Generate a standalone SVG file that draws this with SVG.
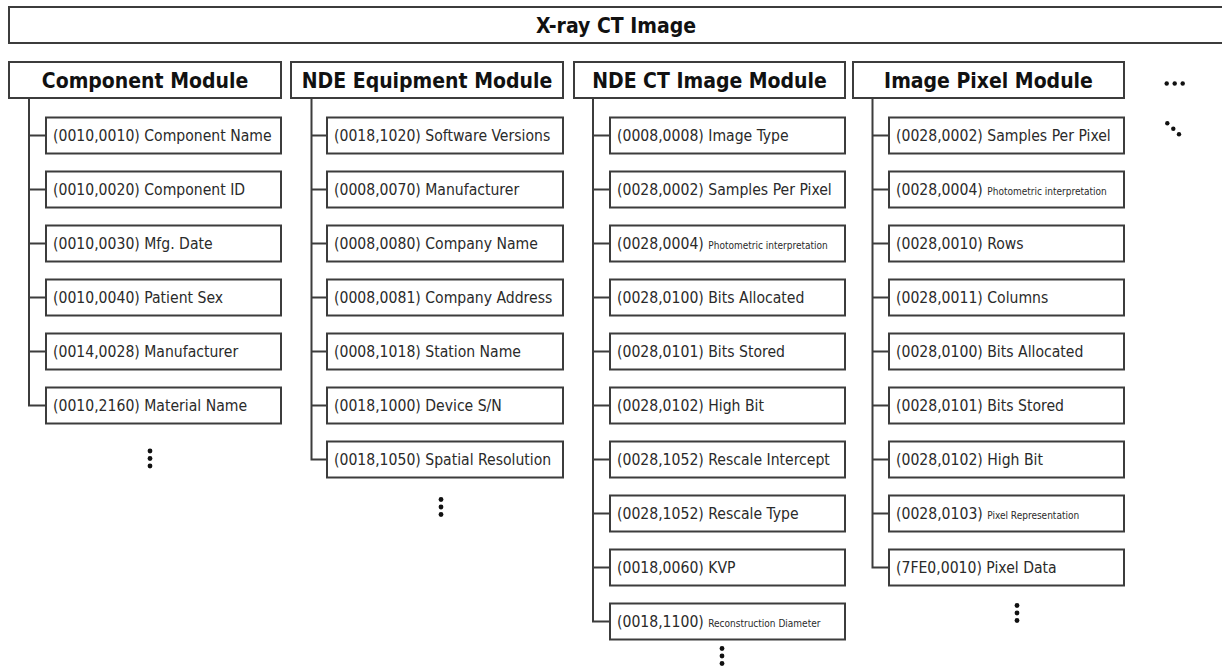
<svg xmlns="http://www.w3.org/2000/svg" width="1222" height="668" viewBox="0 0 1222 668">
  <style>
    .box { fill: #ffffff; stroke: #3c3c3c; stroke-width: 2; }
    .wire { fill: none; stroke: #3c3c3c; stroke-width: 2; }
    .head { font-family: "DejaVu Sans Condensed", "DejaVu Sans", sans-serif; font-weight: bold; font-size: 21px; fill: #111111; text-anchor: middle; }
    .item { font-family: "DejaVu Sans Condensed", "DejaVu Sans", sans-serif; font-size: 15.6px; fill: #2a2a2a; }
    .small { font-size: 10px; }
    .dot { fill: #111111; }
  </style>
  <defs>
    <g id="vdots">
      <circle class="dot" cx="0" cy="-7.5" r="2.4"/>
      <circle class="dot" cx="0" cy="0" r="2.4"/>
      <circle class="dot" cx="0" cy="7.5" r="2.4"/>
    </g>
  </defs>
  <rect width="1222" height="668" fill="#ffffff"/>

  <!-- top-level object -->
  <g id="xray-ct-image">
    <rect class="box" x="9" y="7" width="1220" height="36"/>
    <text class="head" x="616" y="32.5">X-ray CT Image</text>
  </g>

  <!-- tree connectors: spine from each module header, one tick per attribute -->
  <g id="connectors">
    <path class="wire" d="M29 98 V405.5 H46 M29 135.5 H46 M29 189.5 H46 M29 243.5 H46 M29 297.5 H46 M29 351.5 H46"/>
    <path class="wire" d="M311.5 98 V459.5 H327 M311.5 135.5 H327 M311.5 189.5 H327 M311.5 243.5 H327 M311.5 297.5 H327 M311.5 351.5 H327 M311.5 405.5 H327"/>
    <path class="wire" d="M593 98 V621.5 H610 M593 135.5 H610 M593 189.5 H610 M593 243.5 H610 M593 297.5 H610 M593 351.5 H610 M593 405.5 H610 M593 459.5 H610 M593 513.5 H610 M593 567.5 H610"/>
    <path class="wire" d="M872.5 98 V567.5 H889 M872.5 135.5 H889 M872.5 189.5 H889 M872.5 243.5 H889 M872.5 297.5 H889 M872.5 351.5 H889 M872.5 405.5 H889 M872.5 459.5 H889 M872.5 513.5 H889"/>
  </g>

  <!-- Component Module -->
  <g id="component-module">
    <rect class="box" x="9" y="62" width="272" height="36"/>
    <text class="head" x="145" y="87.5">Component Module</text>
  </g>
  <g id="comp-0010-0010"><rect class="box" x="46" y="117.5" width="235" height="36"/><text class="item" x="53" y="141">(0010,0010) Component Name</text></g>
  <g id="comp-0010-0020"><rect class="box" x="46" y="171.5" width="235" height="36"/><text class="item" x="53" y="195">(0010,0020) Component ID</text></g>
  <g id="comp-0010-0030"><rect class="box" x="46" y="225.5" width="235" height="36"/><text class="item" x="53" y="249">(0010,0030) Mfg. Date</text></g>
  <g id="comp-0010-0040"><rect class="box" x="46" y="279.5" width="235" height="36"/><text class="item" x="53" y="303">(0010,0040) Patient Sex</text></g>
  <g id="comp-0014-0028"><rect class="box" x="46" y="333.5" width="235" height="36"/><text class="item" x="53" y="357">(0014,0028) Manufacturer</text></g>
  <g id="comp-0010-2160"><rect class="box" x="46" y="387.5" width="235" height="36"/><text class="item" x="53" y="411">(0010,2160) Material Name</text></g>
  <use href="#vdots" x="150" y="458.5"/>

  <!-- NDE Equipment Module -->
  <g id="nde-equipment-module">
    <rect class="box" x="291" y="62" width="272" height="36"/>
    <text class="head" x="427" y="87.5">NDE Equipment Module</text>
  </g>
  <g id="eq-0018-1020"><rect class="box" x="327" y="117.5" width="236" height="36"/><text class="item" x="334" y="141">(0018,1020) Software Versions</text></g>
  <g id="eq-0008-0070"><rect class="box" x="327" y="171.5" width="236" height="36"/><text class="item" x="334" y="195">(0008,0070) Manufacturer</text></g>
  <g id="eq-0008-0080"><rect class="box" x="327" y="225.5" width="236" height="36"/><text class="item" x="334" y="249">(0008,0080) Company Name</text></g>
  <g id="eq-0008-0081"><rect class="box" x="327" y="279.5" width="236" height="36"/><text class="item" x="334" y="303">(0008,0081) Company Address</text></g>
  <g id="eq-0008-1018"><rect class="box" x="327" y="333.5" width="236" height="36"/><text class="item" x="334" y="357">(0008,1018) Station Name</text></g>
  <g id="eq-0018-1000"><rect class="box" x="327" y="387.5" width="236" height="36"/><text class="item" x="334" y="411">(0018,1000) Device S/N</text></g>
  <g id="eq-0018-1050"><rect class="box" x="327" y="441.5" width="236" height="36"/><text class="item" x="334" y="465">(0018,1050) Spatial Resolution</text></g>
  <use href="#vdots" x="441" y="507"/>

  <!-- NDE CT Image Module -->
  <g id="nde-ct-image-module">
    <rect class="box" x="574" y="62" width="271" height="36"/>
    <text class="head" x="709.5" y="87.5">NDE CT Image Module</text>
  </g>
  <g id="ct-0008-0008"><rect class="box" x="610" y="117.5" width="235" height="36"/><text class="item" x="617" y="141">(0008,0008) Image Type</text></g>
  <g id="ct-0028-0002"><rect class="box" x="610" y="171.5" width="235" height="36"/><text class="item" x="617" y="195">(0028,0002) Samples Per Pixel</text></g>
  <g id="ct-0028-0004"><rect class="box" x="610" y="225.5" width="235" height="36"/><text class="item" x="617" y="249">(0028,0004) <tspan class="small">Photometric interpretation</tspan></text></g>
  <g id="ct-0028-0100"><rect class="box" x="610" y="279.5" width="235" height="36"/><text class="item" x="617" y="303">(0028,0100) Bits Allocated</text></g>
  <g id="ct-0028-0101"><rect class="box" x="610" y="333.5" width="235" height="36"/><text class="item" x="617" y="357">(0028,0101) Bits Stored</text></g>
  <g id="ct-0028-0102"><rect class="box" x="610" y="387.5" width="235" height="36"/><text class="item" x="617" y="411">(0028,0102) High Bit</text></g>
  <g id="ct-0028-1052a"><rect class="box" x="610" y="441.5" width="235" height="36"/><text class="item" x="617" y="465">(0028,1052) Rescale Intercept</text></g>
  <g id="ct-0028-1052b"><rect class="box" x="610" y="495.5" width="235" height="36"/><text class="item" x="617" y="519">(0028,1052) Rescale Type</text></g>
  <g id="ct-0018-0060"><rect class="box" x="610" y="549.5" width="235" height="36"/><text class="item" x="617" y="573">(0018,0060) KVP</text></g>
  <g id="ct-0018-1100"><rect class="box" x="610" y="603.5" width="235" height="36"/><text class="item" x="617" y="627">(0018,1100) <tspan class="small">Reconstruction Diameter</tspan></text></g>
  <use href="#vdots" x="722" y="656"/>

  <!-- Image Pixel Module -->
  <g id="image-pixel-module">
    <rect class="box" x="853" y="62" width="271" height="36"/>
    <text class="head" x="988.5" y="87.5">Image Pixel Module</text>
  </g>
  <g id="px-0028-0002"><rect class="box" x="889" y="117.5" width="235" height="36"/><text class="item" x="896" y="141">(0028,0002) Samples Per Pixel</text></g>
  <g id="px-0028-0004"><rect class="box" x="889" y="171.5" width="235" height="36"/><text class="item" x="896" y="195">(0028,0004) <tspan class="small">Photometric interpretation</tspan></text></g>
  <g id="px-0028-0010"><rect class="box" x="889" y="225.5" width="235" height="36"/><text class="item" x="896" y="249">(0028,0010) Rows</text></g>
  <g id="px-0028-0011"><rect class="box" x="889" y="279.5" width="235" height="36"/><text class="item" x="896" y="303">(0028,0011) Columns</text></g>
  <g id="px-0028-0100"><rect class="box" x="889" y="333.5" width="235" height="36"/><text class="item" x="896" y="357">(0028,0100) Bits Allocated</text></g>
  <g id="px-0028-0101"><rect class="box" x="889" y="387.5" width="235" height="36"/><text class="item" x="896" y="411">(0028,0101) Bits Stored</text></g>
  <g id="px-0028-0102"><rect class="box" x="889" y="441.5" width="235" height="36"/><text class="item" x="896" y="465">(0028,0102) High Bit</text></g>
  <g id="px-0028-0103"><rect class="box" x="889" y="495.5" width="235" height="36"/><text class="item" x="896" y="519">(0028,0103) <tspan class="small">Pixel Representation</tspan></text></g>
  <g id="px-7fe0-0010"><rect class="box" x="889" y="549.5" width="235" height="36"/><text class="item" x="896" y="573">(7FE0,0010) Pixel Data</text></g>
  <use href="#vdots" x="1017" y="613"/>

  <!-- further modules / further attributes -->
  <g id="more-modules">
    <circle class="dot" cx="1166.7" cy="83.5" r="2.2"/>
    <circle class="dot" cx="1174.7" cy="83.5" r="2.2"/>
    <circle class="dot" cx="1182.7" cy="83.5" r="2.2"/>
    <circle class="dot" cx="1167.3" cy="123.3" r="2.2"/>
    <circle class="dot" cx="1173.3" cy="128.8" r="2.2"/>
    <circle class="dot" cx="1179" cy="134.2" r="2.2"/>
  </g>
</svg>
